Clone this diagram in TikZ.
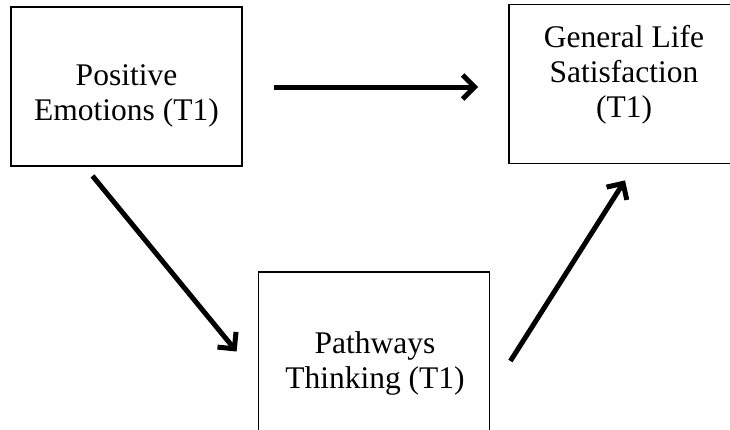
\documentclass[tikz,border=0pt]{standalone}
\usepackage{fontspec}
\setmainfont{Liberation Serif}
\usetikzlibrary{arrows.meta,calc}
\tikzset{
  box/.style={draw,line width=1.8pt,minimum width=231pt,minimum height=159pt,inner sep=0pt},
  txt/.style={align=center,font=\fontsize{31.5}{35}\selectfont},
  arr/.style={line width=5pt,-{Straight Barb[length=12pt,width=24pt]}}
}
\begin{document}
\begin{tikzpicture}[x=1pt,y=-1pt]
  \useasboundingbox (0,0) rectangle (730,429);
  \clip (0,0) rectangle (730,429);
  \node [box] (pe) at (126.5,86.5) {};
  \node [box] (gls) at (624.5,84) {};
  \node [box] (pt) at (374,351.5) {};
  \node [txt] (pe-t) at (126.5,96) {Positive\\Emotions (T1)};
  \node [txt] (gls-t) at (624,75) {General Life\\Satisfaction\\(T1)};
  \node [txt] (pt-t) at (375,363) {Pathways\\Thinking (T1)};
  \draw [arr] ($(pe.east)+(31,0.5)$) -- ($(pe.east -| gls.west)+(-30,0.5)$);
  \draw [arr] ($(pe.south)+(-34,9)$) -- ($(pt.west)+(-21,0)$);
  \draw [arr] ($(pt.east)+(20,9.5)$) -- ($(gls.south)+(0.5,16)$);
\end{tikzpicture}
\end{document}
